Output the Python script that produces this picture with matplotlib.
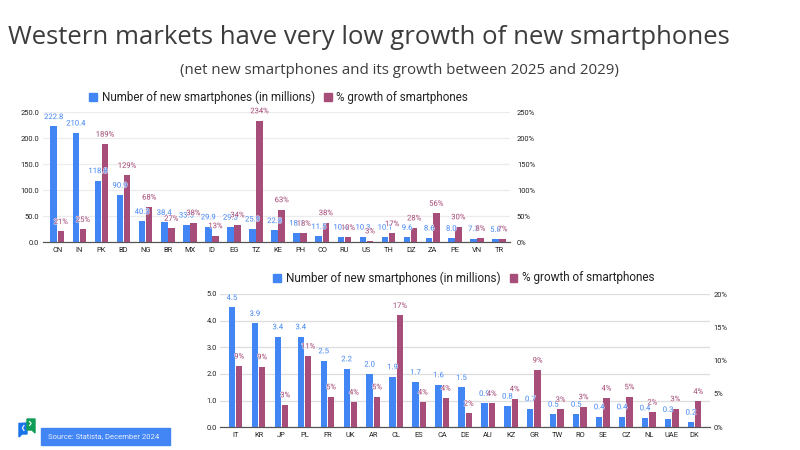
import matplotlib
matplotlib.use("Agg")
import matplotlib.pyplot as plt
import matplotlib.patheffects as pe
from matplotlib.patches import Polygon, Rectangle
from matplotlib.ticker import FuncFormatter

plt.rcParams['font.family'] = ['Roboto', 'DejaVu Sans']

BLUE = '#4285F4'
PURPLE = '#A64D79'
LEGEND_BLUE = 'Number of new smartphones (in millions)'
LEGEND_PURPLE = '% growth of smartphones'

# Emerging and large markets
top_codes = ['CN', 'IN', 'PK', 'BD', 'NG', 'BR', 'MX', 'ID', 'EG', 'TZ', 'KE',
             'PH', 'CO', 'RU', 'US', 'TH', 'DZ', 'ZA', 'PE', 'VN', 'TR']
top_new = [222.8, 210.4, 118.8, 90.9, 40.3, 38.4, 33.5, 29.9, 29.3, 25.9, 22.8,
           18.1, 11.5, 10.4, 10.3, 10.1, 9.6, 8.6, 8.0, 7.3, 5.8]
top_growth = [21, 25, 189, 129, 68, 27, 38, 13, 34, 234, 63,
              17.6, 38, 9.6, 3, 17, 28, 56, 30, 8, 7]

# Western and smaller markets
low_codes = ['IT', 'KR', 'JP', 'PL', 'FR', 'UK', 'AR', 'CL', 'ES', 'CA', 'DE',
             'AU', 'KZ', 'GR', 'TW', 'RO', 'SE', 'CZ', 'NL', 'UAE', 'DK']
low_new = [4.5, 3.9, 3.4, 3.4, 2.5, 2.2, 2.0, 1.9, 1.7, 1.6, 1.5,
           0.9, 0.8, 0.7, 0.5, 0.5, 0.4, 0.4, 0.36, 0.3, 0.2]
low_growth = [9.2, 9.1, 3.4, 10.7, 4.6, 3.8, 4.6, 16.8, 3.8, 4.4, 2.1,
              3.6, 4.3, 8.6, 2.7, 3.1, 4.4, 4.6, 2.3, 2.8, 3.9]

W, H = 800, 450
fig = plt.figure(figsize=(W / 100, H / 100), dpi=100, facecolor='white')


def box(x0, y_top, x1, y_bottom):
    return [x0 / W, 1 - y_bottom / H, (x1 - x0) / W, (y_bottom - y_top) / H]


def value_labels(axis, xs, values, fmt, color, alpha):
    # Placed on the page layer with a pale outline so labels stay readable over bars
    halo = [pe.withStroke(linewidth=0.9, foreground='white', alpha=0.7)]
    for x, v in zip(xs, values):
        page.annotate(fmt % v, xy=(x, v), xycoords=axis.transData, xytext=(0, 4.6),
                      textcoords='offset points', ha='center', va='bottom',
                      color=color, alpha=alpha, fontsize=5.5, annotation_clip=False,
                      path_effects=halo)


def grouped_bars(rect, codes, new, growth, new_max, new_step, growth_max, growth_step,
                 xlim, width, offset, grid_color, legend_xy, legend_size, left_pad, right_pad):
    ax = fig.add_axes(rect)
    twin = ax.twinx()
    xs = list(range(len(codes)))
    blue_x = [x - offset for x in xs]
    purple_x = [x + offset for x in xs]
    ax.bar(blue_x, new, width, color=BLUE, zorder=3)
    twin.bar(purple_x, growth, width, color=PURPLE, zorder=3)

    ax.set_xlim(*xlim)
    ax.set_ylim(0, new_max)
    twin.set_ylim(0, growth_max)
    value_labels(ax, blue_x, new, '%.1f', BLUE, 0.9)
    value_labels(twin, purple_x, growth, '%.0f%%', PURPLE, 0.95)

    ax.set_yticks([new_step * i for i in range(int(new_max / new_step) + 1)])
    twin.set_yticks([growth_step * i for i in range(int(growth_max / growth_step) + 1)])
    ax.yaxis.set_major_formatter(FuncFormatter(lambda v, _: '%.1f' % v))
    twin.yaxis.set_major_formatter(FuncFormatter(lambda v, _: '%.0f%%' % v))
    ax.set_xticks(xs)
    ax.set_xticklabels(codes)
    ax.grid(axis='y', color=grid_color, linewidth=0.9, zorder=0)
    ax.set_axisbelow(True)
    ax.tick_params(axis='x', length=0, pad=3.5, labelsize=5.4, labelcolor='#222222')
    ax.tick_params(axis='y', length=0, pad=left_pad, labelsize=5.4, labelcolor='#222222')
    twin.tick_params(axis='y', length=0, pad=right_pad, labelsize=5.4, labelcolor='#222222')
    for axis in (ax, twin):
        for side in ('top', 'left', 'right'):
            axis.spines[side].set_visible(False)
        axis.spines['bottom'].set_color('#555555')
        axis.spines['bottom'].set_linewidth(0.8)

    # Legend sits in one line above the plotting area
    lx, ly = legend_xy
    page.add_patch(Rectangle((lx, ly - 3.7), 7.5, 7.5, color=BLUE))
    t1 = page.text(lx + 12.5, ly, LEGEND_BLUE, fontsize=legend_size, va='center', color='#222222')
    fig.canvas.draw()
    end = page.transData.inverted().transform(t1.get_window_extent().corners())[:, 0].max()
    page.add_patch(Rectangle((end + 9.5, ly - 3.7), 7.5, 7.5, color=PURPLE))
    page.text(end + 21.5, ly, LEGEND_PURPLE, fontsize=legend_size, va='center', color='#222222')


# Full-page layer in pixel units for headings, legends and the footer
page = fig.add_axes([0, 0, 1, 1], zorder=5)
page.set_xlim(0, W)
page.set_ylim(H, 0)
page.axis('off')
page.patch.set_alpha(0)

page.text(8, 37.5, 'Western markets have very low growth of new smartphones',
          fontsize=18.5, family=['Open Sans', 'DejaVu Sans'], va='center', color='#3c3c3c')
page.text(180, 71, '(net new smartphones and its growth between 2025 and 2029)',
          fontsize=10.8, family=['Open Sans', 'DejaVu Sans'], va='center', color='#3c3c3c')

grouped_bars(box(43.3, 112.3, 510, 242.3), top_codes, top_new, top_growth,
             250, 50, 250, 50, (-0.635, 20.5), 0.3, 0.16, '#ececec',
             (89, 97), 8.35, 3, 5)
grouped_bars(box(220, 294, 710, 427.3), low_codes, low_new, low_growth,
             5, 1, 20, 5, (-0.68, 20.67), 0.275, 0.16, '#dddddd',
             (273, 278), 8.45, 2, 2.5)

# Footer: logo marks and source tag
page.add_patch(Polygon([(19, 423.5), (27, 423), (27, 434), (22, 434), (19, 437)], color='#1a73e8'))
page.add_patch(Polygon([(27, 419), (35, 419), (35, 433), (32, 430), (27, 430)], color='#0f9d58'))
page.plot([24, 22.3, 24], [425.5, 428, 430.5], color='white', lw=0.8)
page.plot([29.5, 31.2, 29.5], [421.5, 423.5, 425.5], color='white', lw=0.8)
page.add_patch(Rectangle((41, 428), 129, 16.5, color=BLUE))
page.text(48.5, 436.3, 'Source: Statista, December 2024', fontsize=5.5, color='#e8efff', va='center')

fig.savefig('out.png', dpi=100, facecolor='white')
